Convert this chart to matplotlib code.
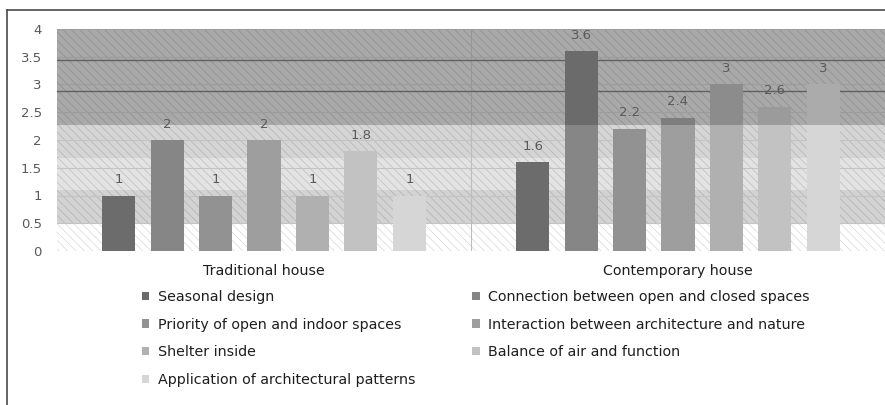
import numpy as np
import matplotlib.pyplot as plt
from matplotlib.lines import Line2D
from matplotlib.transforms import blended_transform_factory

plt.rcParams['hatch.linewidth'] = 0.5

groups = ['Traditional house', 'Contemporary house']
series = ['Seasonal design',
          'Connection between open and closed spaces',
          'Priority of open and indoor spaces',
          'Interaction between architecture and nature',
          'Shelter inside',
          'Balance of air and function',
          'Application of architectural patterns']
traditional = [1, 2, 1, 2, 1, 1.8, 1]
contemporary = [1.6, 3.6, 2.2, 2.4, 3, 2.6, 3]
yticks = [0, 0.5, 1, 1.5, 2, 2.5, 3, 3.5, 4]
ytick_labels = ['0', '0.5', '1', '1.5', '2', '2.5', '3', '3.5', '4']

colors = ['#6c6c6c', '#868686', '#929292', '#9e9e9e', '#b0b0b0', '#c2c2c2', '#d6d6d6']

# background bands (the scanned look of the original)
band_edges = [0, 0.5, 1.1, 1.67, 2.27, 4]
band_colors = ['#ffffff', '#d3d3d3', '#e3e3e3', '#d5d5d5', '#d4d4d4']

fig = plt.figure(figsize=(8.85, 4.05), dpi=100)
ax = fig.add_axes([57 / 885, 154 / 405, 828 / 885, 222 / 405])

for lo, hi, c in zip(band_edges[:-1], band_edges[1:], band_colors):
    ax.axhspan(lo, hi, color=c, lw=0, zorder=0)
ax.axhspan(0, 4, facecolor='none', edgecolor=(0, 0, 0, 0.16), hatch='\\\\\\\\', lw=0, zorder=0.5)
for y in yticks[1:]:
    ax.axhline(y, color='#c4c4c4', lw=0.8, zorder=0.6)
for y in [2.88, 3.44]:
    ax.axhline(y, color='#7a7a7a', lw=1.0, zorder=0.7)
ax.axvline(0.5, color='#bdbdbd', lw=0.8, zorder=0.6)

x = np.arange(len(groups))
step = 0.117
width = 0.08
handles = []
for i, name in enumerate(series):
    vals = [traditional[i], contemporary[i]]
    pos = x + (i - 3) * step
    b = ax.bar(pos, vals, width, color=colors[i], zorder=2, label=name)
    handles.append(b)
    for p, v in zip(pos, vals):
        ax.text(p, v + 0.17, f'{v:g}', ha='center', va='bottom', fontsize=9.5,
                color='#5a5a5a', zorder=5)

# darker top band laid over everything
ax.axhspan(2.27, 4, color='black', alpha=0.2, lw=0, zorder=3)

ax.set_xlim(-0.5, 1.5)
ax.set_ylim(0, 4)
ax.set_yticks(yticks)
ax.set_yticklabels(ytick_labels, fontsize=9.5, color='#595959')
ax.set_xticks([])
ax.tick_params(length=0)
ax.tick_params(axis='y', pad=11)
for s in ax.spines.values():
    s.set_visible(False)

# category labels, same baseline for both
trans = blended_transform_factory(ax.transData, fig.transFigure)
for xi, g in zip(x, groups):
    ax.text(xi, 1 - 275 / 405, g, transform=trans, ha='center', va='baseline',
            fontsize=10.3, color='#1e1e1e')

order = [0, 2, 4, 6, 1, 3, 5]
leg = fig.legend([handles[k] for k in order], [series[k] for k in order],
                 ncol=2, loc='upper left', bbox_to_anchor=(142 / 885, 1 - 290 / 405),
                 frameon=False, fontsize=10.3, handlelength=0.5, handleheight=0.5,
                 handletextpad=0.6, columnspacing=4.0, labelspacing=0.95,
                 borderaxespad=0, borderpad=0)
for t in leg.get_texts():
    t.set_color('#1e1e1e')

# chart frame (left and top edges visible)
fig.add_artist(Line2D([7 / 885, 7 / 885], [0, 1 - 10 / 405], color='#4a4a4a', lw=1.2))
fig.add_artist(Line2D([7 / 885, 1], [1 - 10 / 405, 1 - 10 / 405], color='#4a4a4a', lw=1.2))

fig.savefig('out.png', dpi=100)
